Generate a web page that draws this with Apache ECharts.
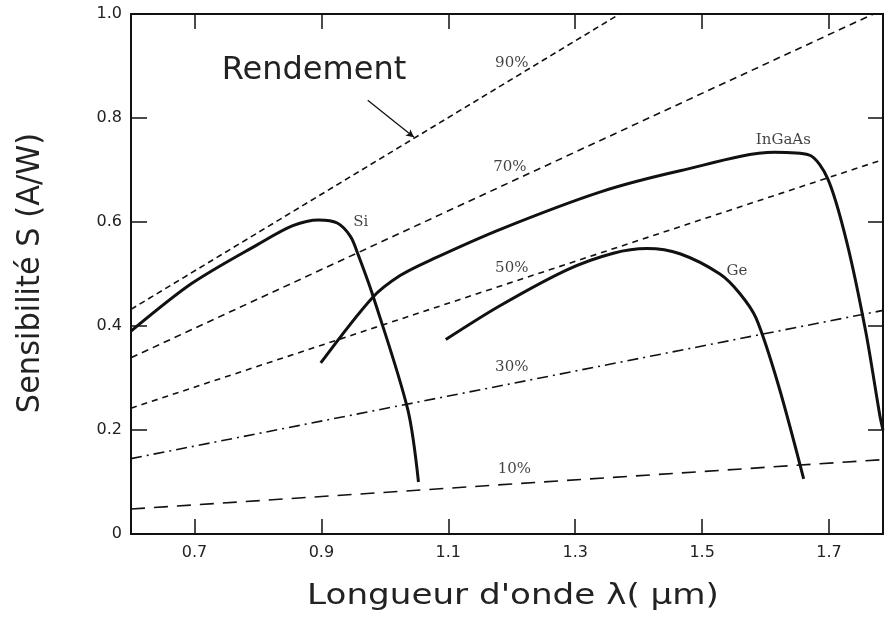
<!DOCTYPE html>
<html><head><meta charset="utf-8">
<script src="https://cdn.jsdelivr.net/npm/echarts@6/dist/echarts.min.js"></script>
<style>html,body{margin:0;padding:0;background:#fff}#c{width:885px;height:617px}</style>
</head><body><div id="c"></div>
<script>
// Tick values
const xTicks = [0.7, 0.9, 1.1, 1.3, 1.5, 1.7];
const yTicks = [0, 0.2, 0.4, 0.6, 0.8, 1.0];

// Responsivity curves [wavelength µm, S A/W]
const siData = [[0.6,0.39],[0.696,0.482],[0.80,0.557],[0.855,0.593],[0.896,0.604],[0.925,0.598],[0.946,0.572],[0.958,0.537],[0.981,0.459],[1.036,0.24],[1.053,0.10]];
const ingaasData = [[0.899,0.329],[0.98,0.454],[1.024,0.497],[1.076,0.529],[1.182,0.586],[1.34,0.658],[1.467,0.699],[1.614,0.734],[1.668,0.729],[1.698,0.683],[1.728,0.561],[1.758,0.388],[1.78,0.228],[1.785,0.2]];
const geData = [[1.096,0.374],[1.18,0.438],[1.287,0.508],[1.36,0.54],[1.413,0.549],[1.465,0.539],[1.528,0.5],[1.559,0.463],[1.585,0.415],[1.62,0.287],[1.66,0.106]];

// Efficiency (rendement) lines: endpoints
const eff90 = [[0.6,0.432],[1.37,1.0]];
const eff70 = [[0.6,0.339],[1.77,1.0]];
const eff50 = [[0.6,0.242],[1.785,0.72]];
const eff30 = [[0.6,0.145],[1.785,0.43]];
const eff10 = [[0.6,0.048],[1.785,0.143]];

// Annotation labels
const effNames = ['90%','70%','50%','30%','10%'];
const effLabelPos = [[1.2,0.905],[1.197,0.706],[1.2,0.512],[1.2,0.32],[1.204,0.124]];
const curveNames = ['Si','InGaAs','Ge'];
const curveLabelPos = [[0.962,0.6],[1.628,0.758],[1.555,0.505]];
const arrowFrom = [0.973,0.834];
const arrowTo = [1.046,0.763];

const chart = echarts.init(document.getElementById('c'), null, {renderer:'canvas'});
const INK = '#111';
function effSeries(name, data, dash){
  return {name, type:'line', data, symbol:'none', silent:true, clip:true,
    lineStyle:{color:INK, width:1.6, type:dash}, z:2};
}
function curveSeries(name, data){
  return {name, type:'line', data, symbol:'none', smooth:0.3, silent:true, clip:true,
    lineStyle:{color:INK, width:3, cap:'butt', join:'round'}, z:3};
}
const labelData = effNames.map((n,i)=>({name:n, value:effLabelPos[i]}))
  .concat(curveNames.map((n,i)=>({name:n, value:curveLabelPos[i]})));

const axisCommon = {
  axisLine:{show:true, onZero:false, lineStyle:{color:INK, width:2}},
  splitLine:{show:false}
};
chart.setOption({
  animation:false,
  backgroundColor:'#fff',
  grid:{left:131, right:2, top:14, bottom:83, containLabel:false},
  xAxis:[
    Object.assign({type:'value', position:'bottom', min:0.6, max:1.785,
      axisTick:{show:true, inside:true, length:15, customValues:xTicks, lineStyle:{color:INK, width:1.5}},
      axisLabel:{show:true, customValues:xTicks, margin:11, color:'#222', fontSize:16, fontFamily:'DejaVu Sans',
        formatter:v=>v.toFixed(1)}}, axisCommon),
    Object.assign({type:'value', position:'top', min:0.6, max:1.785,
      axisTick:{show:true, inside:true, length:15, customValues:xTicks, lineStyle:{color:INK, width:1.5}},
      axisLabel:{show:false}}, axisCommon)
  ],
  yAxis:[
    Object.assign({type:'value', position:'left', min:0, max:1, interval:0.2,
      axisTick:{show:true, inside:true, length:16, lineStyle:{color:INK, width:1.5}},
      axisLabel:{show:true, margin:9, color:'#222', fontSize:16, fontFamily:'DejaVu Sans',
        formatter:v=> v===0 ? '0' : v.toFixed(1)}}, axisCommon),
    Object.assign({type:'value', position:'right', min:0, max:1, interval:0.2,
      axisTick:{show:true, inside:true, length:15, lineStyle:{color:INK, width:1.5}},
      axisLabel:{show:false}}, axisCommon)
  ],
  series:[
    effSeries('90%', eff90, [6,4]),
    effSeries('70%', eff70, [7,5]),
    effSeries('50%', eff50, [6,5]),
    effSeries('30%', eff30, [11,5,2,5]),
    effSeries('10%', eff10, [14,9]),
    curveSeries('Si', siData),
    curveSeries('InGaAs', ingaasData),
    curveSeries('Ge', geData),
    {name:'labels', type:'scatter', symbolSize:0, silent:true, z:5,
      data:labelData,
      label:{show:true, position:'inside', color:INK, fontFamily:'DejaVu Serif', fontSize:15,
        formatter:p=>p.name},
      markLine:{silent:true, symbol:['none','arrow'], symbolSize:[6,8], animation:false,
        label:{show:false},
        lineStyle:{color:INK, width:1.3, type:'solid'},
        data:[[{coord:arrowFrom},{coord:arrowTo}]]}
    }
  ],
  graphic:[
    {type:'text', x:314, y:71, silent:true,
      style:{text:'Rendement', fill:'#222', font:'32px "DejaVu Sans"', textAlign:'center', textVerticalAlign:'middle'}},
    {type:'text', x:513, y:597, scaleX:1.22, silent:true,
      style:{text:"Longueur d'onde λ( µm)", fill:'#222', font:'28px "DejaVu Sans"', textAlign:'center', textVerticalAlign:'middle'}},
    {type:'text', x:31, y:273, rotation:Math.PI/2, scaleX:0.95, silent:true,
      style:{text:'Sensibilité S (A/W)', fill:'#222', font:'32px "DejaVu Sans"', textAlign:'center', textVerticalAlign:'middle'}}
  ]
});
</script></body></html>
